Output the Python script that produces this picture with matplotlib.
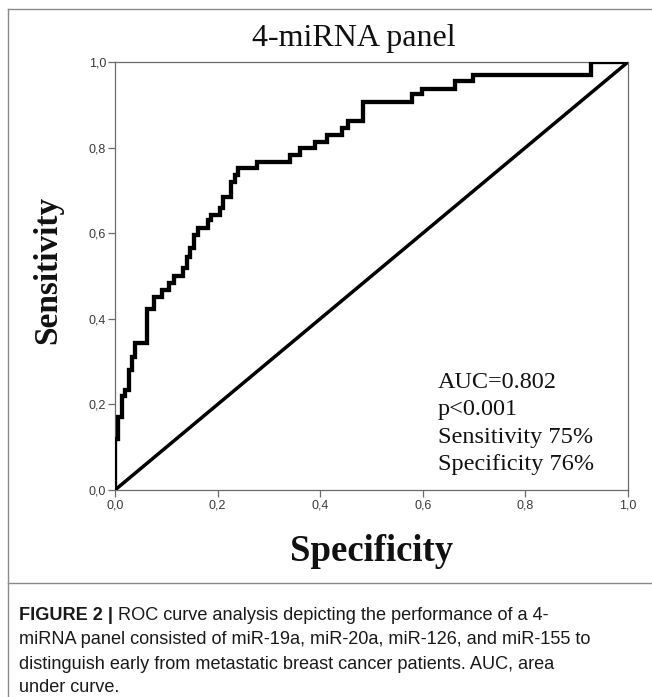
import matplotlib
matplotlib.use("Agg")
import matplotlib.pyplot as plt
from matplotlib import font_manager
from matplotlib.lines import Line2D

# ---- data ----
fpr = [0.0, 0.0, 0.005, 0.013, 0.020, 0.028, 0.034, 0.039, 0.063, 0.076, 0.091,
       0.106, 0.115, 0.132, 0.141, 0.146, 0.154, 0.162, 0.182, 0.188, 0.205,
       0.211, 0.227, 0.234, 0.240, 0.276, 0.341, 0.360, 0.390, 0.413, 0.442,
       0.455, 0.484, 0.578, 0.598, 0.663, 0.698, 0.927, 1.0]
tpr = [0.0, 0.120, 0.170, 0.220, 0.234, 0.280, 0.310, 0.344, 0.422, 0.452, 0.467,
       0.483, 0.500, 0.518, 0.545, 0.565, 0.596, 0.611, 0.631, 0.643, 0.658,
       0.685, 0.720, 0.736, 0.752, 0.766, 0.782, 0.798, 0.814, 0.829, 0.845,
       0.861, 0.906, 0.925, 0.938, 0.956, 0.970, 1.0, 1.0]
ref_line = [0.0, 1.0]
ticks = [0.0, 0.2, 0.4, 0.6, 0.8, 1.0]
tick_labels = ["0,0", "0,2", "0,4", "0,6", "0,8", "1,0"]
title = "4-miRNA panel"
xlabel = "Specificity"
ylabel = "Sensitivity"
stats = ["AUC=0.802", "p<0.001", "Sensitivity 75%", "Specificity 76%"]
caption_bold = "FIGURE 2 |"
caption_lines = [
    " ROC curve analysis depicting the performance of a 4-",
    "miRNA panel consisted of miR-19a, miR-20a, miR-126, and miR-155 to",
    "distinguish early from metastatic breast cancer patients. AUC, area",
    "under curve.",
]

W, H = 652, 697
fig = plt.figure(figsize=(W / 100, H / 100), dpi=100)
fig.patch.set_facecolor("white")

def fx(px):
    return px / W

def fy(py):
    return 1 - py / H

# axes box in pixels: left 115, right 628, top 62, bottom 490
ax = fig.add_axes([fx(115), fy(490), fx(628 - 115), (490 - 62) / H])
ax.set_xlim(0, 1)
ax.set_ylim(0, 1)

ax.step(fpr, tpr, where="post", color="black", lw=3.1,
        solid_joinstyle="miter", solid_capstyle="projecting", zorder=3)
ax.plot(ref_line, ref_line, color="black", lw=2.5, zorder=2)

for s in ax.spines.values():
    s.set_color("#6b6b6b")
    s.set_linewidth(0.9)

ax.set_xticks(ticks)
ax.set_yticks(ticks)
ax.set_xticklabels(tick_labels)
ax.set_yticklabels(tick_labels)
ax.tick_params(axis="both", direction="out", length=5, width=0.9,
               color="#6b6b6b", labelsize=9, labelcolor="#3a3a3a", pad=1.5)
for lab in ax.get_xticklabels() + ax.get_yticklabels():
    lab.set_family(["Liberation Sans", "DejaVu Sans"])

serif = ["Liberation Serif", "DejaVu Serif"]

# title
fig.text(fx(354), fy(46), title, ha="center", va="baseline",
         fontsize=23, family=serif, color="#111111")

# axis labels
fig.text(fx(372), fy(561), xlabel, ha="center", va="baseline",
         fontsize=26.5, family=serif, fontweight="bold", color="#111111")
fig.text(fx(48), fy(270), ylabel, ha="center", va="center", rotation=90,
         fontsize=24, family=serif, fontweight="bold", color="#111111")

# stats text
for i, s in enumerate(stats):
    fig.text(fx(438), fy(388 + 27.3 * i), s, ha="left", va="baseline",
             fontsize=17.5, family=serif, color="#111111")

# frame lines
frame_c = "#8a8a8a"
fig.add_artist(Line2D([fx(8), 1.0], [fy(9), fy(9)], color=frame_c, lw=1.0))
fig.add_artist(Line2D([fx(8), fx(8)], [fy(9), 0.0], color=frame_c, lw=1.0))
fig.add_artist(Line2D([fx(8), 1.0], [fy(583), fy(583)], color=frame_c, lw=1.0))

# caption
names = {f.name for f in font_manager.fontManager.ttflist}
if "Liberation Sans Narrow" in names:
    cap_family = ["Liberation Sans Narrow", "DejaVu Sans"]
    cap_size = 15.5
else:
    cap_family = ["Liberation Sans", "DejaVu Sans"]
    cap_size = 13.1

r = fig.canvas.get_renderer()
baselines = [620, 644.5, 669, 692]
tb = fig.text(fx(19), fy(baselines[0]), caption_bold, ha="left", va="baseline",
              fontsize=cap_size, family=cap_family, fontweight="bold", color="#1a1a1a")
bb = tb.get_window_extent(renderer=r)
fig.text(bb.x1 / W, fy(baselines[0]), caption_lines[0], ha="left", va="baseline",
         fontsize=cap_size, family=cap_family, color="#1a1a1a")
for i, line in enumerate(caption_lines[1:], start=1):
    fig.text(fx(19), fy(baselines[i]), line, ha="left", va="baseline",
             fontsize=cap_size, family=cap_family, color="#1a1a1a")

fig.savefig("out.png", dpi=100, facecolor="white")
